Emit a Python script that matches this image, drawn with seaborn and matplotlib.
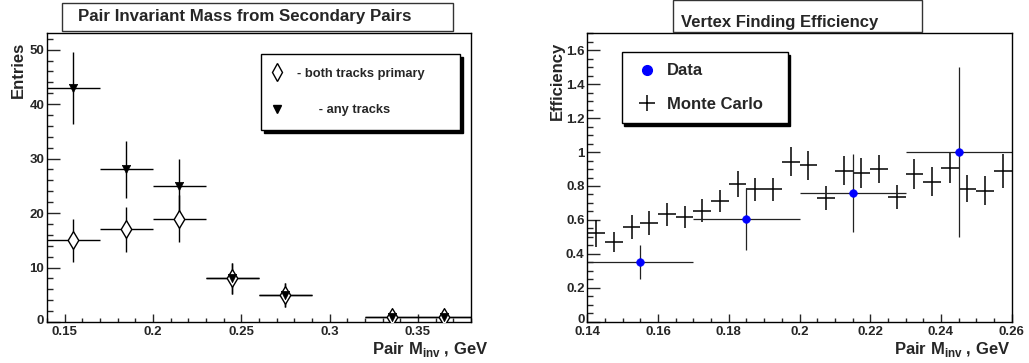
import numpy as np
import matplotlib
matplotlib.use("Agg")
import matplotlib.pyplot as plt
import matplotlib.transforms as mtransforms
from matplotlib.lines import Line2D
from matplotlib.patches import Rectangle
from matplotlib.ticker import FixedLocator, MultipleLocator
import seaborn as sns

# ---- pair invariant mass histogram (secondary pairs) ----
mass_centers = [0.155, 0.185, 0.215, 0.245, 0.275, 0.335, 0.365]
mass_halfbin = 0.015
primary_counts = [15, 17, 19, 8, 5, 1, 1]
primary_errors = [3.9, 4.1, 4.4, 2.8, 2.2, 1.0, 1.0]
any_counts = [43, 28, 25, 8, 5, 1, 1]
any_errors = [6.6, 5.3, 5.0, 2.8, 2.2, 1.0, 1.0]

# ---- vertex finding efficiency ----
data_centers = [0.155, 0.185, 0.215, 0.245]
data_halfbin = 0.015
data_eff = [0.35, 0.605, 0.757, 1.0]
data_err = [0.10, 0.185, 0.23, 0.5]

mc_centers = [0.1425, 0.1475, 0.1525, 0.1575, 0.1625, 0.1675, 0.1725, 0.1775,
              0.1825, 0.1875, 0.1925, 0.1975, 0.2025, 0.2075, 0.2125, 0.2175,
              0.2225, 0.2275, 0.2325, 0.2375, 0.2425, 0.2475, 0.2525, 0.2575]
mc_halfbin = 0.0025
mc_eff = [0.52, 0.47, 0.56, 0.58, 0.633, 0.616, 0.655, 0.712,
          0.812, 0.78, 0.78, 0.944, 0.923, 0.73, 0.89, 0.875,
          0.90, 0.737, 0.87, 0.826, 0.905, 0.783, 0.771, 0.89]
mc_err = [0.08, 0.06, 0.07, 0.07, 0.066, 0.065, 0.066, 0.066,
          0.074, 0.07, 0.07, 0.084, 0.085, 0.07, 0.085, 0.088,
          0.085, 0.07, 0.088, 0.085, 0.09, 0.08, 0.086, 0.10]

# tick values and labels
mass_xticks = [0.15, 0.2, 0.25, 0.3, 0.35]
mass_xticklabels = ["0.15", "0.2", "0.25", "0.3", "0.35"]
mass_yticks = [0, 10, 20, 30, 40, 50]
mass_yticklabels = ["0", "10", "20", "30", "40", "50"]
eff_xticks = [0.14, 0.16, 0.18, 0.2, 0.22, 0.24, 0.26]
eff_xticklabels = ["0.14", "0.16", "0.18", "0.2", "0.22", "0.24", "0.26"]
eff_yticks = [0, 0.2, 0.4, 0.6, 0.8, 1.0, 1.2, 1.4, 1.6]
eff_yticklabels = ["0", "0.2", "0.4", "0.6", "0.8", "1", "1.2", "1.4", "1.6"]

sns.set_theme(style="ticks")
plt.rcParams["font.family"] = ["Liberation Sans", "DejaVu Sans"]
plt.rcParams["font.weight"] = "bold"
plt.rcParams["mathtext.fontset"] = "custom"
plt.rcParams["mathtext.rm"] = "Liberation Sans:bold"
plt.rcParams["mathtext.bf"] = "Liberation Sans:bold"
plt.rcParams["axes.linewidth"] = 1.0

W, H = 1029, 363
fig = plt.figure(figsize=(W / 100, H / 100), dpi=100)
fig.patch.set_facecolor("white")


def px_axes(x0, y0, x1, y1):
    return fig.add_axes([x0 / W, 1 - y1 / H, (x1 - x0) / W, (y1 - y0) / H])


ax1 = px_axes(47, 33.3, 471, 322)
ax2 = px_axes(587.3, 33.3, 1011.7, 321.7)


def style_axis(ax, xticks, xlabels, yticks, ylabels, xminor, yminor):
    ax.set_facecolor("white")
    for s in ax.spines.values():
        s.set_color("black")
        s.set_linewidth(1.0)
    ax.xaxis.set_major_locator(FixedLocator(xticks))
    ax.set_xticklabels(xlabels)
    ax.yaxis.set_major_locator(FixedLocator(yticks))
    ax.set_yticklabels(ylabels)
    ax.xaxis.set_minor_locator(MultipleLocator(xminor))
    ax.yaxis.set_minor_locator(MultipleLocator(yminor))
    ax.tick_params(axis="x", which="major", direction="in", length=6, width=1,
                   pad=3, labelsize=9.5, top=False)
    ax.tick_params(axis="x", which="minor", direction="in", length=3, width=1,
                   top=False)
    ax.tick_params(axis="y", which="major", direction="in", length=9, width=1,
                   pad=2, labelsize=9.5, right=False)
    ax.tick_params(axis="y", which="minor", direction="in", length=4.5, width=1,
                   right=False)
    for lab in ax.get_xticklabels() + ax.get_yticklabels():
        lab.set_fontweight("bold")
    # lift the zero label on the value axis a little, clear of the x labels
    zero = ax.get_yticklabels()[0]
    zero.set_transform(zero.get_transform() +
                       mtransforms.ScaledTranslation(0, 3 / 100,
                                                     fig.dpi_scale_trans))


# ---- left panel ----
ax1.errorbar(mass_centers, primary_counts, xerr=mass_halfbin, yerr=primary_errors,
             fmt="none", ecolor="black", elinewidth=1.0, capsize=0, zorder=2)
ax1.errorbar(mass_centers, any_counts, xerr=mass_halfbin, yerr=any_errors,
             fmt="none", ecolor="black", elinewidth=1.0, capsize=0, zorder=2)
sns.scatterplot(x=mass_centers, y=primary_counts, ax=ax1, marker="d", s=81,
                color="white", edgecolor="black", linewidth=1.0, zorder=3,
                legend=False)
sns.scatterplot(x=mass_centers, y=any_counts, ax=ax1, marker="v", s=36,
                color="black", edgecolor="black", linewidth=0.5, zorder=4,
                legend=False)
ax1.set_xlim(0.14, 0.38)
ax1.set_ylim(0, 53)
style_axis(ax1, mass_xticks, mass_xticklabels, mass_yticks, mass_yticklabels,
           0.01, 2)

ax1.set_ylabel("Entries", fontsize=12, fontweight="bold", loc="top")
ax1.yaxis.set_label_coords(-0.05, 0.97)
ax1.set_xlabel(r"Pair M$_{\mathbf{inv}}$ , GeV", fontsize=12,
               fontweight="bold", loc="right")
ax1.xaxis.set_label_coords(1.04, -0.064)

h_prim = Line2D([], [], ls="none", marker="d", ms=9, mfc="white",
                mec="black", mew=1.0)
h_any = Line2D([], [], ls="none", marker="v", ms=6, mfc="black",
               mec="black")
leg1 = ax1.legend([h_prim, h_any],
                  ["- both tracks primary", "      - any tracks"],
                  loc="upper left", bbox_to_anchor=(0.505, 0.0, 0.469, 0.928),
                  mode="expand", borderaxespad=0,
                  prop={"weight": "bold", "size": 9.3},
                  borderpad=1.05, handlelength=0.3, handletextpad=1.4,
                  labelspacing=1.9, fancybox=False, framealpha=1,
                  edgecolor="black",
                  shadow={"color": "black", "alpha": 1.0})
leg1.get_frame().set_linewidth(1.0)

# ---- right panel ----
ax2.errorbar(mc_centers, mc_eff, xerr=mc_halfbin, yerr=mc_err, fmt="none",
             ecolor="black", elinewidth=1.1, capsize=0, zorder=2)
ax2.errorbar(data_centers, data_eff, xerr=data_halfbin, yerr=data_err,
             fmt="none", ecolor="#222222", elinewidth=0.9, capsize=0, zorder=2)
sns.scatterplot(x=data_centers, y=data_eff, ax=ax2, marker="o", s=30,
                color="#0000ff", edgecolor="#0000ff", linewidth=0.5, zorder=4,
                legend=False)
ax2.set_xlim(0.14, 0.26)
ax2.set_ylim(0, 1.7)
style_axis(ax2, eff_xticks, eff_xticklabels, eff_yticks, eff_yticklabels,
           0.005, 0.05)

ax2.set_ylabel("Efficiency", fontsize=12, fontweight="bold", loc="top")
ax2.yaxis.set_label_coords(-0.053, 0.97)
ax2.set_xlabel(r"Pair M$_{\mathbf{inv}}$ , GeV", fontsize=12,
               fontweight="bold", loc="right")
ax2.xaxis.set_label_coords(0.996, -0.064)

h_data = Line2D([], [], ls="none", marker="o", ms=7, mfc="#0000ff",
                mec="#0000ff")
h_mc = Line2D([], [], ls="none", marker="+", ms=11.5, mew=1.1, color="black")
leg2 = ax2.legend([h_data, h_mc], ["Data", "Monte Carlo"],
                  loc="upper left", bbox_to_anchor=(0.081, 0.0, 0.391, 0.936),
                  mode="expand", borderaxespad=0,
                  prop={"weight": "bold", "size": 12},
                  borderpad=0.7, handlelength=1.6, handletextpad=0.42,
                  labelspacing=1.1, fancybox=False, framealpha=1,
                  edgecolor="black",
                  shadow={"color": "black", "alpha": 1.0})
leg2.get_frame().set_linewidth(1.0)

# ---- title boxes ----
def title_box(x0, y0, x1, y1):
    r = Rectangle((x0 / W, 1 - y1 / H), (x1 - x0) / W, (y1 - y0) / H,
                  transform=fig.transFigure, facecolor="white",
                  edgecolor="#333333", linewidth=1.0, zorder=5)
    fig.patches.append(r)


title_box(62, 3, 453, 31)
fig.text(78 / W, 1 - 17 / H, "Pair Invariant Mass from Secondary Pairs",
         ha="left", va="center", fontsize=12.2, fontweight="bold", zorder=6)

title_box(673, 0.5, 922, 32)
fig.text(681 / W, 1 - 22 / H, "Vertex Finding Efficiency",
         ha="left", va="center", fontsize=12, fontweight="bold", zorder=6)

fig.savefig("out.png", dpi=100, facecolor="white")
